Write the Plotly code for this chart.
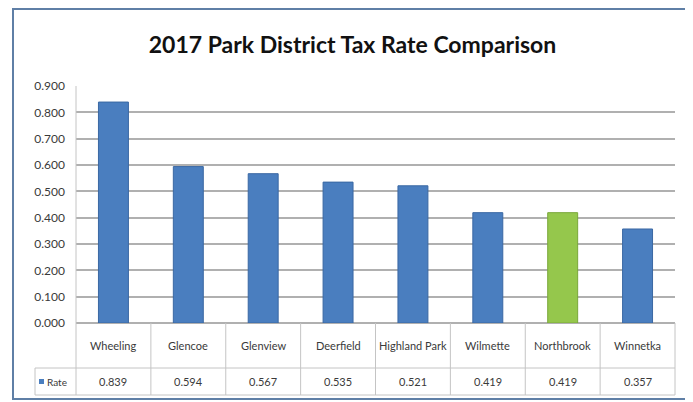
import plotly.graph_objects as go

# ---- data ----
categories = ["Wheeling", "Glencoe", "Glenview", "Deerfield", "Highland Park",
              "Wilmette", "Northbrook", "Winnetka"]
rates = [0.839, 0.594, 0.567, 0.535, 0.521, 0.419, 0.419, 0.357]
rate_labels = ["0.839", "0.594", "0.567", "0.535", "0.521", "0.419", "0.419", "0.357"]
highlight = "Northbrook"
series_name = "Rate"
title_text = "2017 Park District Tax Rate Comparison"
y_ticks = [0.0, 0.1, 0.2, 0.3, 0.4, 0.5, 0.6, 0.7, 0.8, 0.9]

# ---- layout geometry (reference pixels; page body has an 8px margin) ----
OFF = 8
W, H = 693 - OFF, 402 - OFF
L, R, T, B = 76, 675, 86, 323   # plot area in window pixels

def px(x):
    return (x - L) / (R - L)

def py(y):
    return (B - y) / (B - T)

BLUE = "#4a7ebf"
BLUE_EDGE = "#3a68a3"
GREEN = "#95c74c"
GREEN_EDGE = "#7aa83a"
GRID = "#b0b0b0"
TABLE = "#c4c4c4"
TXT = "#3a3a3a"
FONT = "Lato, Roboto, Liberation Sans, sans-serif"

colors = [GREEN if c == highlight else BLUE for c in categories]
edges = [GREEN_EDGE if c == highlight else BLUE_EDGE for c in categories]

fig = go.Figure()
fig.add_trace(go.Bar(
    x=categories, y=rates, name=series_name,
    marker=dict(color=colors, line=dict(color=edges, width=1)),
    showlegend=False,
))

shapes = []
# outer chart border
shapes.append(dict(type="rect", xref="paper", yref="paper",
                   x0=px(13), x1=px(688), y0=py(399), y1=py(9),
                   line=dict(color="#5f7fa6", width=2), layer="below"))
# left plot line
shapes.append(dict(type="line", xref="paper", yref="paper",
                   x0=0, x1=0, y0=py(395), y1=1,
                   line=dict(color=TABLE, width=1)))
# right table edge
shapes.append(dict(type="line", xref="paper", yref="paper",
                   x0=1, x1=1, y0=py(395), y1=0,
                   line=dict(color=TABLE, width=1)))
# table horizontal lines
shapes.append(dict(type="line", xref="paper", yref="paper",
                   x0=px(35), x1=1, y0=py(368), y1=py(368),
                   line=dict(color=TABLE, width=1)))
shapes.append(dict(type="line", xref="paper", yref="paper",
                   x0=px(35), x1=1, y0=py(395), y1=py(395),
                   line=dict(color=TABLE, width=1)))
shapes.append(dict(type="line", xref="paper", yref="paper",
                   x0=px(35), x1=px(35), y0=py(395), y1=py(368),
                   line=dict(color=TABLE, width=1)))
# column separators
for i in range(1, len(categories)):
    shapes.append(dict(type="line", xref="x", yref="paper",
                       x0=i - 0.5, x1=i - 0.5, y0=py(395), y1=0,
                       line=dict(color=TABLE, width=1)))
# legend key
shapes.append(dict(type="rect", xref="paper", yref="paper",
                   x0=px(39), x1=px(44), y0=py(384), y1=py(379),
                   fillcolor=BLUE, line=dict(width=0)))

annotations = []
for c, lab in zip(categories, rate_labels):
    annotations.append(dict(x=c, y=py(345), xref="x", yref="paper",
                            xanchor="center", yanchor="middle",
                            text=c, showarrow=False,
                            font=dict(family=FONT, size=11, color=TXT)))
    annotations.append(dict(x=c, y=py(381.5), xref="x", yref="paper",
                            xanchor="center", yanchor="middle",
                            text=lab, showarrow=False,
                            font=dict(family=FONT, size=11, color=TXT)))
annotations.append(dict(x=px(45), y=py(381.5), xref="paper", yref="paper",
                        xanchor="left", yanchor="middle",
                        text=series_name, showarrow=False,
                        font=dict(family=FONT, size=10, color=TXT)))

fig.update_layout(
    width=W, height=H,
    margin=dict(l=L - OFF, r=693 - R, t=T - OFF, b=402 - B),
    paper_bgcolor="white", plot_bgcolor="white",
    bargap=0.6,
    title=dict(text="<b>" + title_text + "</b>", x=px(352.5), xref="paper",
               xanchor="center",
               y=1 - (45 - OFF) / H, yanchor="middle",
               font=dict(family=FONT, size=23, color="#111111")),
    xaxis=dict(showticklabels=False, showgrid=False, zeroline=False,
               showline=False, ticks="", range=[-0.5, len(categories) - 0.5]),
    yaxis=dict(range=[0, 0.9], tickvals=y_ticks, tickformat=".3f",
               showgrid=True, gridcolor=GRID, gridwidth=1.5,
               zeroline=True, zerolinecolor=GRID, zerolinewidth=1.5,
               showline=False, ticks="", ticklabelstandoff=10,
               tickfont=dict(family=FONT, size=12, color=TXT)),
    shapes=shapes, annotations=annotations,
)

fig.write_html("out.html")
